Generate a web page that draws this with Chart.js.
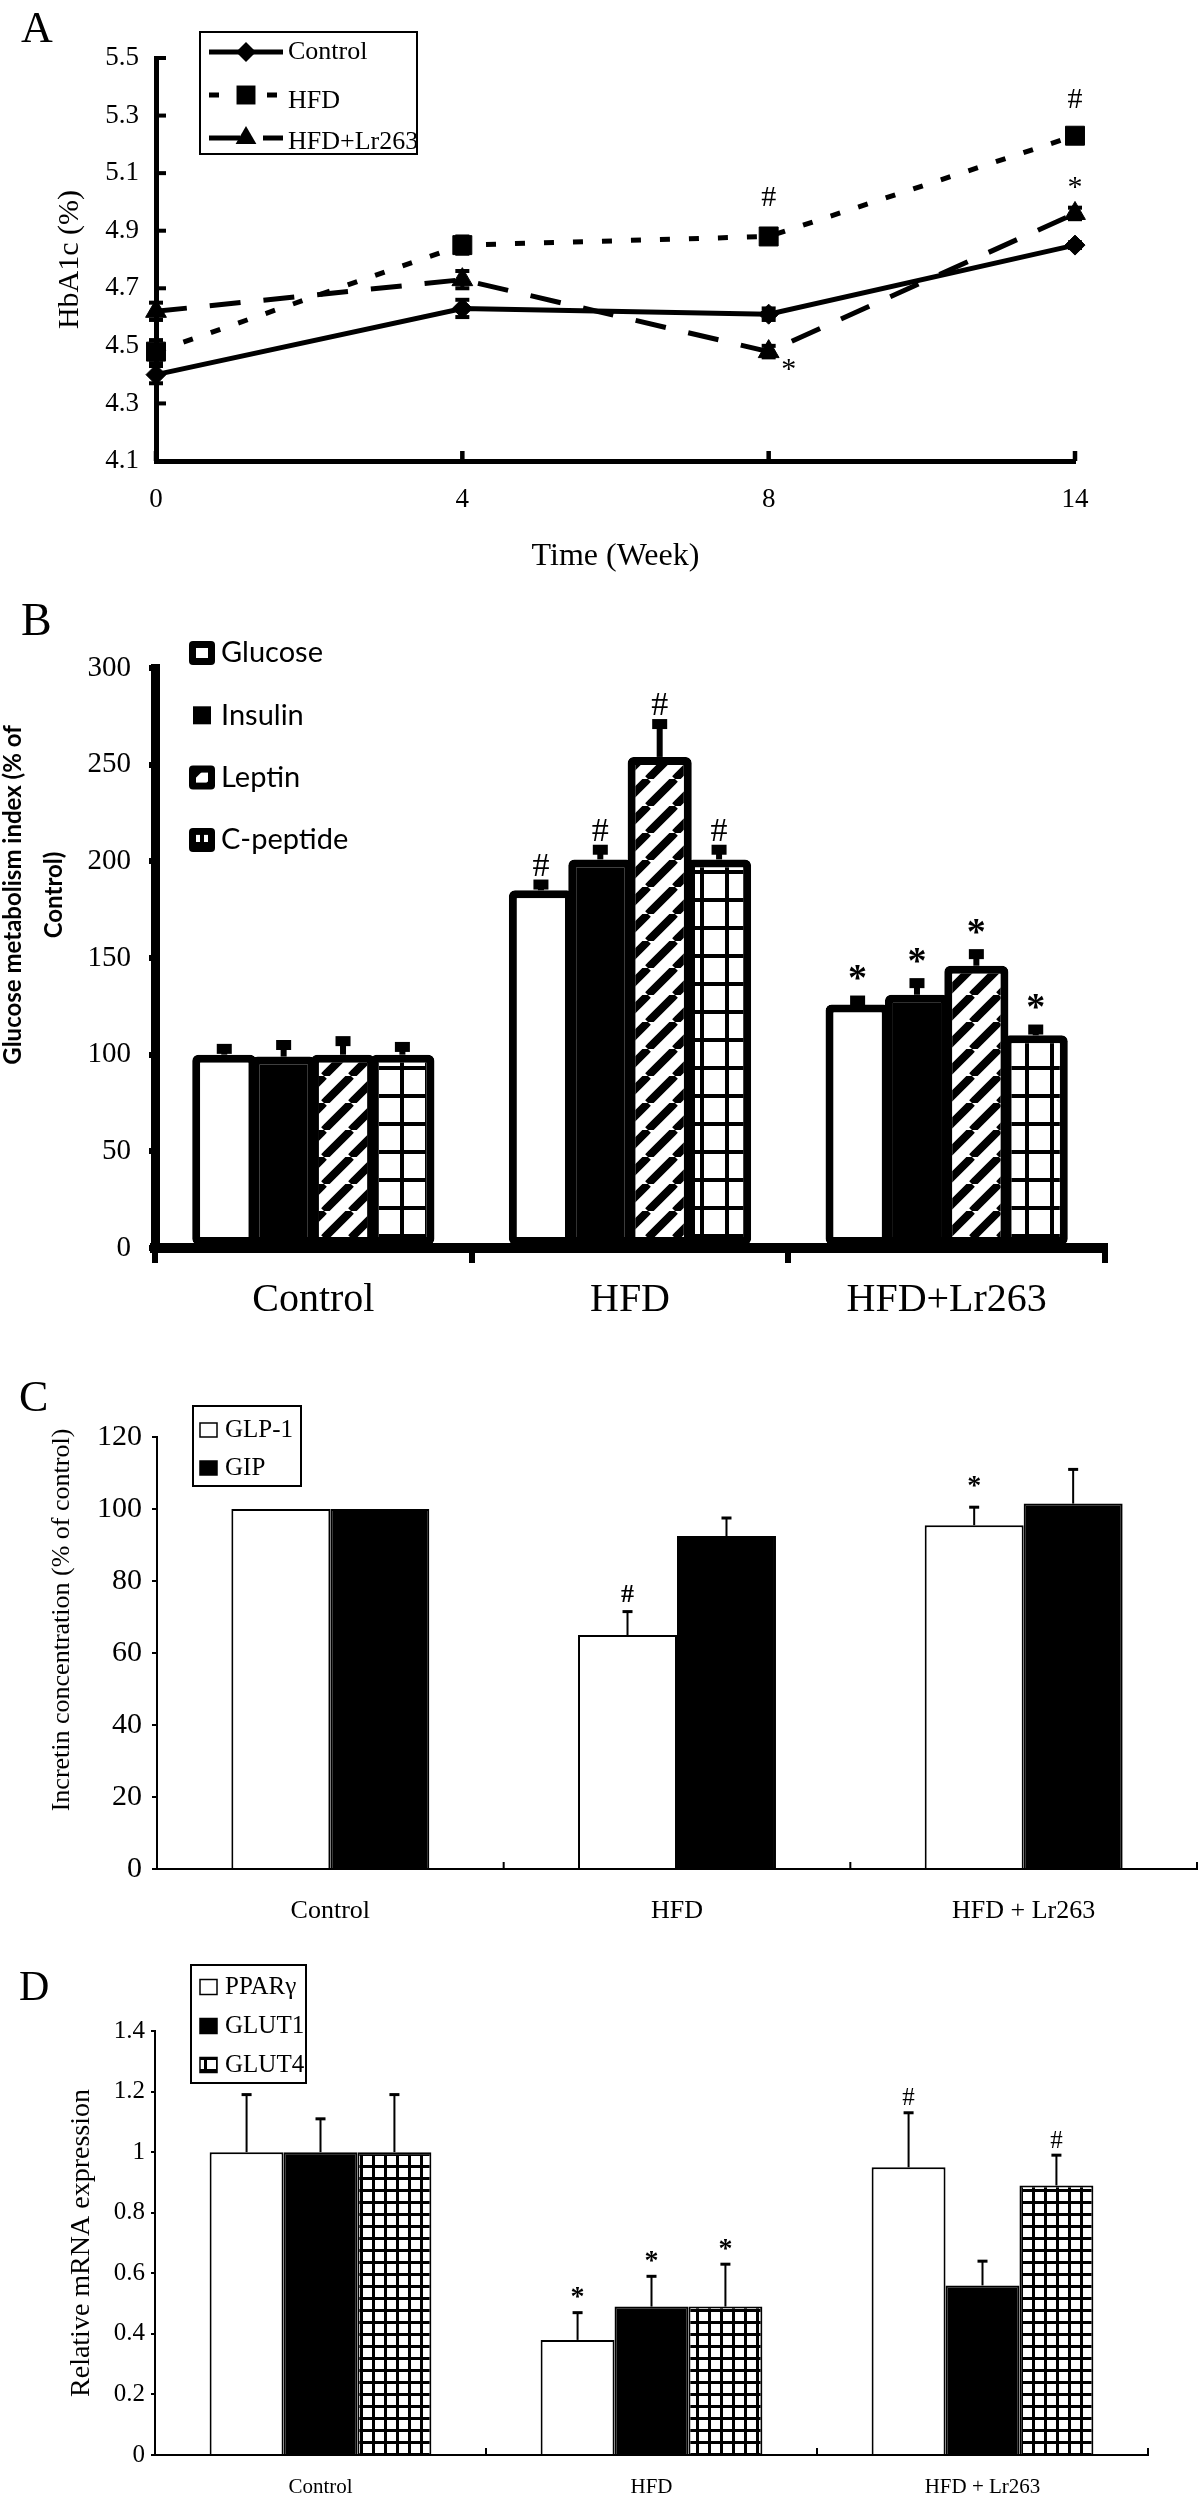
<!DOCTYPE html>
<html><head><meta charset="utf-8">
<script src="https://cdn.jsdelivr.net/npm/chart.js@4.4.0/dist/chart.umd.min.js"></script>
<style>
html,body{margin:0;padding:0;background:#fff;}
body{width:1200px;height:2499px;position:relative;overflow:hidden;}
.wrap{position:absolute;left:0;width:1200px;}
.lbl{position:absolute;font-family:"Liberation Serif",serif;line-height:1;color:#000;z-index:5;}
</style></head><body>
<div class="wrap" style="top:0;height:590px"><canvas id="cA"></canvas></div>
<div class="wrap" style="top:590px;height:735px"><canvas id="cB"></canvas></div>
<div class="wrap" style="top:1325px;height:600px"><canvas id="cC"></canvas></div>
<div class="wrap" style="top:1925px;height:574px"><canvas id="cD"></canvas></div>
<div class="lbl" style="left:21px;top:6px;font-size:44px">A</div>
<div class="lbl" style="left:21px;top:597px;font-size:46px">B</div>
<div class="lbl" style="left:19px;top:1375px;font-size:44px">C</div>
<div class="lbl" style="left:19px;top:1965px;font-size:42px">D</div>
<script>
// ---------- Panel A data ----------
const weeks = ['0', '4', '8', '14'];
const hba1cTicks = [4.1, 4.3, 4.5, 4.7, 4.9, 5.1, 5.3, 5.5];
const hba1cControl = [4.40, 4.63, 4.61, 4.85];
const hba1cHFD = [4.48, 4.85, 4.88, 5.23];
const hba1cLr = [4.62, 4.73, 4.48, 4.96];
const hba1cControlErr = [0.03, 0.03, 0.02, 0.01];
const hba1cHFDErr = [0.04, 0.03, 0.02, 0.01];
const hba1cLrErr = [0.03, 0.03, 0.02, 0.02];
const hba1cHFDSig = ['', '', '#', '#'];
const hba1cLrSig = ['', '', '*', '*'];

// ---------- Panel B data ----------
const groupsB = ['Control', 'HFD', 'HFD+Lr263'];
const glucose = [100, 185, 126];
const insulin = [99, 201, 131];
const leptin = [100, 254, 146];
const cpeptide = [100, 201, 110];
const glucoseErr = [3, 3, 2];
const insulinErr = [6, 5, 6];
const leptinErr = [7, 17, 6];
const cpeptideErr = [4, 5, 3];
const glucoseSig = ['', '#', '*'];
const insulinSig = ['', '#', '*'];
const leptinSig = ['', '#', '*'];
const cpeptideSig = ['', '#', '*'];

// ---------- Panel C data ----------
const groupsC = ['Control', 'HFD', 'HFD + Lr263'];
const glp1 = [100, 65, 95.5];
const gip = [100, 92.5, 101.5];
const glp1Err = [0, 6.5, 5];
const gipErr = [0, 5, 9.5];
const glp1Sig = ['', '#', '*'];
const gipSig = ['', '', ''];

// ---------- Panel D data ----------
const groupsD = ['Control', 'HFD', 'HFD + Lr263'];
const mrnaTicks = [0, 0.2, 0.4, 0.6, 0.8, 1, 1.2, 1.4];
const ppar = [1.0, 0.38, 0.95];
const glut1 = [1.0, 0.49, 0.56];
const glut4 = [1.0, 0.49, 0.89];
const pparErr = [0.19, 0.09, 0.18];
const glut1Err = [0.11, 0.10, 0.08];
const glut4Err = [0.19, 0.14, 0.10];
const pparSig = ['', '*', '#'];
const glut1Sig = ['', '*', ''];
const glut4Sig = ['', '*', '#'];

// ---------- patterns ----------
function makePattern(w, h, draw) {
  const c = document.createElement('canvas'); c.width = w; c.height = h;
  const g = c.getContext('2d'); draw(g, w, h);
  return g.createPattern(c, 'repeat');
}
const stripes = makePattern(27, 27, (g, w, h) => {
  g.fillStyle = '#fff'; g.fillRect(0, 0, w, h);
  g.strokeStyle = '#000'; g.lineWidth = 8; g.beginPath();
  for (const k of [-w, 0, w]) { g.moveTo(k, h); g.lineTo(k + w, 0); }
  g.stroke();
});
const gridB = makePattern(25, 28, (g, w, h) => {
  g.fillStyle = '#fff'; g.fillRect(0, 0, w, h);
  g.fillStyle = '#000'; g.fillRect(0, 0, w, 4); g.fillRect(0, 0, 4, h);
});
const gridD = makePattern(12, 12, (g, w, h) => {
  g.fillStyle = '#fff'; g.fillRect(0, 0, w, h);
  g.fillStyle = '#000'; g.fillRect(0, 0, w, 3); g.fillRect(0, 0, 3, h);
});

// ---------- plugins ----------
function drawMarker(ctx, style, r, x, y) {
  ctx.beginPath();
  if (style === 'rectRot') { ctx.moveTo(x - r, y); ctx.lineTo(x, y - r); ctx.lineTo(x + r, y); ctx.lineTo(x, y + r); ctx.closePath(); }
  else if (style === 'rect') { const s = Math.SQRT1_2 * r; ctx.rect(x - s, y - s, 2 * s, 2 * s); }
  else if (style === 'triangle') { ctx.moveTo(x, y - r); ctx.lineTo(x + 0.866 * r, y + r / 2); ctx.lineTo(x - 0.866 * r, y + r / 2); ctx.closePath(); }
  ctx.fill();
}

const errPlugin = {
  id: 'errs',
  afterDatasetsDraw(chart, args, o) {
    if (!o || !o.on) return;
    const ctx = chart.ctx, ys = chart.scales.y;
    chart.data.datasets.forEach((ds, di) => {
      if (!ds.err) return;
      const meta = chart.getDatasetMeta(di);
      meta.data.forEach((el, i) => {
        const e = ds.err[i]; if (!e) return;
        const v = ds.data[i];
        const x = el.x;
        const yTop = ys.getPixelForValue(v + e);
        const yBot = o.both ? ys.getPixelForValue(v - e) : ys.getPixelForValue(v);
        ctx.save(); ctx.fillStyle = '#000';
        ctx.fillRect(x - o.stem / 2, yTop, o.stem, yBot - yTop);
        ctx.fillRect(x - o.capW / 2, yTop - o.capH / 2, o.capW, o.capH);
        if (o.both) ctx.fillRect(x - o.capW / 2, yBot - o.capH / 2, o.capW, o.capH);
        ctx.restore();
      });
    });
  }
};

const sigPlugin = {
  id: 'sig',
  afterDatasetsDraw(chart, args, o) {
    if (!o || !o.on) return;
    const ctx = chart.ctx, ys = chart.scales.y;
    chart.data.datasets.forEach((ds, di) => {
      if (!ds.sig) return;
      const meta = chart.getDatasetMeta(di);
      ds.sig.forEach((s, i) => {
        if (!s) return;
        const el = meta.data[i];
        const v = ds.data[i], e = (ds.err && ds.err[i]) || 0;
        let cx = el.x, cy;
        const sp = (o.special || []).find(q => q.d === di && q.i === i);
        if (sp) { cx = el.x + sp.dx; cy = ys.getPixelForValue(v) + sp.dy; }
        else cy = ys.getPixelForValue(v + e) - o.gap[s];
        ctx.save();
        ctx.font = o.font[s]; ctx.fillStyle = '#000';
        ctx.textAlign = 'center'; ctx.textBaseline = 'alphabetic';
        const m = ctx.measureText(s);
        const mid = (m.actualBoundingBoxAscent - m.actualBoundingBoxDescent) / 2;
        ctx.fillText(s, cx, cy + mid);
        ctx.restore();
      });
    });
  }
};

const innerTicks = {
  id: 'innerTicks',
  beforeDatasetsDraw(chart, args, o) {
    if (!o || !o.on) return;
    const ctx = chart.ctx, ca = chart.chartArea;
    ctx.save(); ctx.fillStyle = '#000';
    if (o.x) {
      const xs = chart.scales.x, n = chart.data.labels.length;
      for (let i = 0; i < n; i++) {
        const px = xs.getPixelForValue(o.x.between ? i + 0.5 : i);
        ctx.fillRect(px - o.x.w / 2, ca.bottom - o.x.len, o.x.w, o.x.len);
      }
    }
    if (o.y) {
      const ys = chart.scales.y;
      ys.ticks.forEach(t => {
        const py = ys.getPixelForValue(t.value);
        ctx.fillRect(ca.left, py - o.y.w / 2, o.y.len, o.y.w);
      });
    }
    ctx.restore();
  }
};

const yTitle = {
  id: 'yTitle',
  afterDraw(chart, args, o) {
    if (!o || !o.lines) return;
    const ctx = chart.ctx;
    ctx.save();
    ctx.font = o.font; ctx.fillStyle = '#000'; ctx.textAlign = 'center'; ctx.textBaseline = 'middle';
    o.lines.forEach((t, i) => {
      ctx.save(); ctx.translate(o.cx[i], o.cy); ctx.rotate(-Math.PI / 2); ctx.fillText(t, 0, 0); ctx.restore();
    });
    ctx.restore();
  }
};

const customLegend = {
  id: 'customLegend',
  afterDraw(chart, args, o) {
    if (!o || !o.kind) return;
    const ctx = chart.ctx;
    ctx.save();
    if (o.box) { ctx.lineWidth = o.box.lw; ctx.strokeStyle = '#000'; ctx.strokeRect(o.box.x, o.box.y, o.box.w, o.box.h); }
    chart.data.datasets.forEach((ds, i) => {
      const cy = o.y0 + i * o.dy;
      if (o.kind === 'line') {
        ctx.save();
        ctx.strokeStyle = '#000'; ctx.lineWidth = ds.borderWidth; ctx.setLineDash(ds.borderDash || []);
        ctx.beginPath(); ctx.moveTo(o.x0, cy); ctx.lineTo(o.x0 + o.len, cy); ctx.stroke();
        ctx.restore();
        ctx.fillStyle = '#000';
        drawMarker(ctx, ds.pointStyle, ds.pointRadius, o.x0 + o.len / 2, cy);
      } else if (o.kind === 'bold') {
        if (ds.backgroundColor === '#000') {
          ctx.fillStyle = '#000'; ctx.fillRect(o.x0 + 4, cy - 9, 18, 18);
        } else {
          ctx.fillStyle = '#000'; ctx.beginPath(); ctx.roundRect(o.x0, cy - 12, 26, 24, 4); ctx.fill();
          ctx.fillStyle = ds.backgroundColor; ctx.fillRect(o.x0 + 7, cy - 5, 12, 10);
        }
      } else if (o.kind === 'box') {
        ctx.fillStyle = ds.backgroundColor; ctx.fillRect(o.x0, cy - o.sh / 2, o.sw, o.sh);
        ctx.lineWidth = 1.5; ctx.strokeStyle = '#000'; ctx.strokeRect(o.x0, cy - o.sh / 2, o.sw, o.sh);
      }
      ctx.fillStyle = '#000'; ctx.font = o.font; ctx.textAlign = 'left'; ctx.textBaseline = 'middle';
      const dy = o.textDy ? (o.textDy[i] || 0) : 0;
      ctx.fillText(ds.label, o.textX, cy + dy);
    });
    ctx.restore();
  }
};

Chart.register(errPlugin, sigPlugin, innerTicks, customLegend, yTitle);
Chart.defaults.font.family = "'Liberation Serif', serif";
Chart.defaults.color = '#000';

const base = {
  responsive: true, maintainAspectRatio: false, devicePixelRatio: 1, animation: false,
  events: []
};

// ---------- Chart A ----------
const lineDs = (label, data, err, sig, style, r, dash) => ({
  label, data, err, sig, borderColor: '#000', backgroundColor: '#000', borderWidth: 5,
  borderDash: dash, pointStyle: style, pointRadius: r, pointBackgroundColor: '#000',
  pointBorderColor: '#000', pointBorderWidth: 1, clip: false, tension: 0
});
new Chart(document.getElementById('cA'), {
  type: 'line',
  data: {
    labels: weeks,
    datasets: [
      lineDs('Control', hba1cControl, hba1cControlErr, null, 'rectRot', 10, []),
      lineDs('HFD', hba1cHFD, hba1cHFDErr, hba1cHFDSig, 'rect', 13.4, [10, 19]),
      lineDs('HFD+Lr263', hba1cLr, hba1cLrErr, hba1cLrSig, 'triangle', 12, [31, 23])
    ]
  },
  options: Object.assign({}, base, {
    layout: { padding: { left: 0, right: 125, top: 58, bottom: 0 } },
    plugins: {
      legend: { display: false }, tooltip: { enabled: false },
      errs: { on: true, both: true, stem: 4, capW: 14, capH: 4 },
      sig: { on: true, gap: { '#': 34, '*': 25 }, font: { '#': "30px 'Liberation Serif'", '*': "30px 'Liberation Serif'" },
             special: [{ d: 2, i: 2, dx: 20, dy: 13 }] },
      innerTicks: { on: true, x: { between: false, len: 10, w: 4.5 }, y: { len: 10, w: 4 } },
      customLegend: { kind: 'line', box: { x: 200, y: 32, w: 217, h: 122, lw: 2 }, x0: 209, len: 74, y0: 52, dy: 43,
                      textX: 288, textDy: [0, 6, 4], font: "26px 'Liberation Serif'" }
    },
    scales: {
      x: {
        type: 'category', offset: false,
        grid: { display: false, drawTicks: false },
        border: { display: true, color: '#000', width: 5 },
        ticks: { font: { size: 27 }, padding: 23, autoSkip: false, maxRotation: 0 },
        title: { display: true, text: 'Time (Week)', font: { size: 32 }, padding: { top: 0, bottom: 14 } },
        afterFit(s) { s.height = 129; }
      },
      y: {
        min: 4.1, max: 5.5,
        afterBuildTicks(s) { s.ticks = hba1cTicks.map(v => ({ value: v })); },
        grid: { display: false, drawTicks: false },
        border: { display: true, color: '#000', width: 5 },
        ticks: { font: { size: 27 }, padding: 17, callback: v => Number(v).toFixed(1) },
        title: { display: true, text: 'HbA1c (%)', font: { size: 30 }, padding: { top: 52, bottom: 0 } },
        afterFit(s) { s.width = 156; }
      }
    }
  })
});

// ---------- Chart B ----------
const barB = (label, data, err, sig, bg) => ({
  label, data, err, sig, backgroundColor: bg, borderColor: '#000', borderWidth: 8,
  borderRadius: 6, borderSkipped: false, categoryPercentage: 0.75, barPercentage: 1.08
});
new Chart(document.getElementById('cB'), {
  type: 'bar',
  data: {
    labels: groupsB,
    datasets: [
      barB('Glucose', glucose, glucoseErr, glucoseSig, '#fff'),
      barB('Insulin', insulin, insulinErr, insulinSig, '#000'),
      barB('Leptin', leptin, leptinErr, leptinSig, stripes),
      barB('C-peptide', cpeptide, cpeptideErr, cpeptideSig, gridB)
    ]
  },
  options: Object.assign({}, base, {
    layout: { padding: { left: 0, right: 95, top: 78, bottom: 0 } },
    plugins: {
      legend: { display: false }, tooltip: { enabled: false },
      errs: { on: true, both: false, stem: 6, capW: 15, capH: 10 },
      sig: { on: true, gap: { '#': 20, '*': 28 }, font: { '#': "34px 'Liberation Serif'", '*': "bold 38px 'Liberation Serif'" } },
      customLegend: { kind: 'bold', x0: 189, y0: 63, dy: 62.3, textX: 221, font: "29px Lato" },
      yTitle: { lines: ['Glucose metabolism index (% of', 'Control)'], font: "bold 24px Lato", cx: [13, 54], cy: 305 }
    },
    scales: {
      x: {
        type: 'category', offset: true,
        grid: { display: true, drawOnChartArea: false, drawTicks: true, tickLength: 15, lineWidth: 6, color: '#000', offset: true },
        border: { display: true, color: '#000', width: 10 },
        ticks: { font: { size: 40 }, padding: 13, autoSkip: false, maxRotation: 0 },
        afterFit(s) { s.height = 77; }
      },
      y: {
        min: 0, max: 300,
        grid: { display: true, drawOnChartArea: false, drawTicks: true, tickLength: 6, lineWidth: 6, color: '#000' },
        border: { display: true, color: '#000', width: 9 },
        ticks: { stepSize: 50, font: { size: 29 }, padding: 18 },
        afterFit(s) { s.width = 155; }
      }
    }
  })
});

// ---------- Chart C ----------
const barC = (label, data, err, sig, bg) => ({
  label, data, err, sig, backgroundColor: bg, borderColor: '#000', borderWidth: 2,
  categoryPercentage: 0.571, barPercentage: 1.0
});
new Chart(document.getElementById('cC'), {
  type: 'bar',
  data: {
    labels: groupsC,
    datasets: [
      barC('GLP-1', glp1, glp1Err, glp1Sig, '#fff'),
      barC('GIP', gip, gipErr, gipSig, '#000')
    ]
  },
  options: Object.assign({}, base, {
    layout: { padding: { left: 0, right: 3, top: 112, bottom: 0 } },
    plugins: {
      legend: { display: false }, tooltip: { enabled: false },
      errs: { on: true, both: false, stem: 2, capW: 10, capH: 3 },
      sig: { on: true, gap: { '#': 18, '*': 26 }, font: { '#': "bold 26px 'Liberation Serif'", '*': "bold 28px 'Liberation Serif'" } },
      innerTicks: { on: true, x: { between: true, len: 7, w: 2 } },
      customLegend: { kind: 'box', box: { x: 193, y: 81, w: 108, h: 80, lw: 2 }, x0: 200, sw: 17, sh: 14, y0: 105, dy: 38,
                      textX: 225, font: "25px 'Liberation Serif'" },
      yTitle: { lines: ['Incretin concentration (% of control)'], font: "26px 'Liberation Serif'", cx: [62], cy: 295 }
    },
    scales: {
      x: {
        type: 'category', offset: true,
        grid: { display: false, drawTicks: false },
        border: { display: true, color: '#000', width: 2 },
        ticks: { font: { size: 26 }, padding: 27, autoSkip: false, maxRotation: 0 },
        afterFit(s) { s.height = 56; }
      },
      y: {
        min: 0, max: 120,
        grid: { display: true, drawOnChartArea: false, drawTicks: true, tickLength: 5, lineWidth: 2, color: '#000' },
        border: { display: true, color: '#000', width: 2 },
        ticks: { stepSize: 20, font: { size: 30 }, padding: 10 },
        afterFit(s) { s.width = 157; }
      }
    }
  })
});

// ---------- Chart D ----------
const barD = (label, data, err, sig, bg) => ({
  label, data, err, sig, backgroundColor: bg, borderColor: '#000', borderWidth: 2,
  categoryPercentage: 0.67, barPercentage: 1.0
});
new Chart(document.getElementById('cD'), {
  type: 'bar',
  data: {
    labels: groupsD,
    datasets: [
      barD('PPARγ', ppar, pparErr, pparSig, '#fff'),
      barD('GLUT1', glut1, glut1Err, glut1Sig, '#000'),
      barD('GLUT4', glut4, glut4Err, glut4Sig, gridD)
    ]
  },
  options: Object.assign({}, base, {
    layout: { padding: { left: 0, right: 52, top: 106, bottom: 0 } },
    plugins: {
      legend: { display: false }, tooltip: { enabled: false },
      errs: { on: true, both: false, stem: 2, capW: 10, capH: 3 },
      sig: { on: true, gap: { '#': 16, '*': 20 }, font: { '#': "25px 'Liberation Serif'", '*': "bold 28px 'Liberation Serif'" } },
      innerTicks: { on: true, x: { between: true, len: 7, w: 2 } },
      customLegend: { kind: 'box', box: { x: 191, y: 40, w: 115, h: 118, lw: 2 }, x0: 200, sw: 17, sh: 15, y0: 62, dy: 39,
                      textX: 225, font: "25px 'Liberation Serif'" }
    },
    scales: {
      x: {
        type: 'category', offset: true,
        grid: { display: false, drawTicks: false },
        border: { display: true, color: '#000', width: 2 },
        ticks: { font: { size: 21 }, padding: 20, autoSkip: false, maxRotation: 0 },
        afterFit(s) { s.height = 44; }
      },
      y: {
        min: 0, max: 1.4,
        afterBuildTicks(s) { s.ticks = mrnaTicks.map(v => ({ value: v })); },
        grid: { display: true, drawOnChartArea: false, drawTicks: true, tickLength: 4, lineWidth: 2, color: '#000' },
        border: { display: true, color: '#000', width: 2 },
        ticks: { font: { size: 25 }, padding: 6, callback: v => String(Number(v.toFixed(1))) },
        title: { display: true, text: 'Relative mRNA expression',
                 font: { family: "'Liberation Serif', serif", size: 28 }, padding: { top: 65, bottom: 0 } },
        afterFit(s) { s.width = 155; }
      }
    }
  })
});
</script>
</body></html>
